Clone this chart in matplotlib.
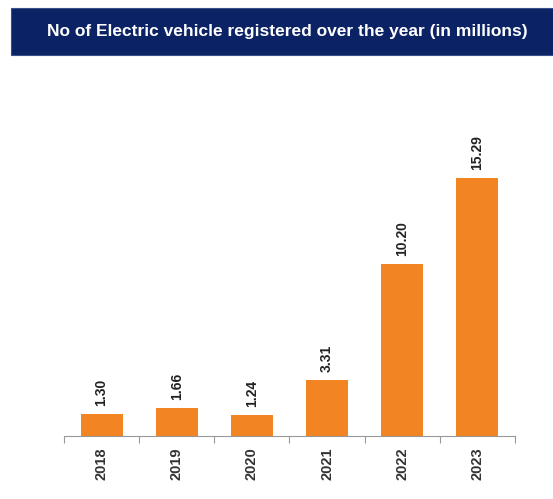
import matplotlib
matplotlib.use("Agg")
import matplotlib.pyplot as plt
import numpy as np
from matplotlib.patches import Rectangle

# datos
years = ["2018", "2019", "2020", "2021", "2022", "2023"]
values = [1.30, 1.66, 1.24, 3.31, 10.20, 15.29]
title = "No of Electric vehicle registered over the year (in millions)"

fig = plt.figure(figsize=(5.53, 4.99), dpi=100)
fig.patch.set_facecolor("white")

# banda del titulo
fig.patches.append(Rectangle((0.02, 0.89), 0.98, 0.094, transform=fig.transFigure,
                             facecolor="#0b2265", edgecolor="#3a4f8a", linewidth=0.8))
fig.text(0.52, 0.937, title, color="white", fontsize=12.5, fontweight="bold",
         ha="center", va="center", family="Liberation Sans")

ax = fig.add_axes([0.1157, 0.1263, 0.8156, 0.7535])
x = np.arange(len(years))
ax.bar(x, values, width=0.56, color="#f28522")

for xi, v in zip(x, values):
    ax.annotate(f"{v:.2f}", (xi, v), xytext=(0, 6), textcoords="offset points",
                rotation=90, ha="center", va="bottom", fontsize=10,
                fontweight="bold", color="#222222", family="Liberation Sans")

ax.set_xlim(-0.5, len(years) - 0.5)
ax.set_ylim(0, 22.3)
ax.set_yticks([])
for s in ["left", "right", "top"]:
    ax.spines[s].set_visible(False)
ax.spines["bottom"].set_color("#999999")

# marcas en los limites de categoria, etiquetas en el centro
ax.set_xticks(np.arange(-0.5, len(years)), labels=[""] * (len(years) + 1))
ax.tick_params(axis="x", which="major", length=5, color="#999999", direction="out")
ax.set_xticks(x, labels=years, minor=True)
ax.tick_params(axis="x", which="minor", length=0, pad=8)
for lbl in ax.get_xticklabels(minor=True):
    lbl.set_rotation(90)
    lbl.set_fontsize(10.5)
    lbl.set_fontweight("bold")
    lbl.set_color("#333333")
    lbl.set_family("Liberation Sans")

fig.savefig("out.png", dpi=100)
